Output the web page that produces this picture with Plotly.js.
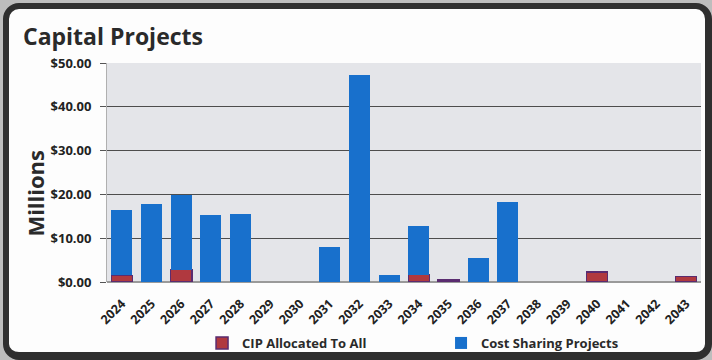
<!DOCTYPE html>
<html>
<head>
<meta charset="utf-8">
<script src="https://cdn.plot.ly/plotly-3.0.1.min.js"></script>
<style>
  html, body { margin: 0; padding: 0; width: 712px; height: 360px; overflow: hidden; background: #bdbdbd; }
  #frame { position: absolute; left: 3px; top: 3px; width: 709px; height: 357px; box-sizing: border-box;
           border-style: solid; border-color: #2f2f2f; border-width: 6px 7px 8px 6px;
           border-radius: 16px; background: #fdfdfd; }
  #chart { position: absolute; left: 0; top: 0; width: 712px; height: 360px; }
</style>
</head>
<body>
<div id="frame"></div>
<div id="chart"></div>
<script>
const years = ['2024','2025','2026','2027','2028','2029','2030','2031','2032','2033',
               '2034','2035','2036','2037','2038','2039','2040','2041','2042','2043'];
const cipAllocated = [1.5, null, 2.8, null, null, null, null, null, null, null, 1.7, 0.5, null, null, null, null, 2.3, null, null, 1.3];
const costSharing  = [14.9, 17.8, 17.1, 15.3, 15.5, null, null, 8.0, 47.2, 1.5, 11.1, null, 5.5, 18.2, null, null, null, null, null, null];
const yTicks = [0, 10, 20, 30, 40, 50];
const yTickText = yTicks.map(v => '$' + v.toFixed(2));

const FONT = 'Open Sans, Liberation Sans, sans-serif';

const traces = [
  {
    type: 'bar', name: 'CIP Allocated To All', x: years, y: cipAllocated,
    marker: { color: '#b0393f', line: { color: '#5a2c70', width: 1.5 } }
  },
  {
    type: 'bar', name: 'Cost Sharing Projects', x: years, y: costSharing,
    marker: { color: '#1870cc', line: { width: 0 } }
  }
];

const layout = {
  width: 712, height: 360,
  paper_bgcolor: 'rgba(0,0,0,0)',
  plot_bgcolor: '#e4e5e9',
  barmode: 'stack',
  bargap: 0.29,
  margin: { l: 107, r: 11, t: 63, b: 78, pad: 0, autoexpand: false },
  font: { family: FONT, color: '#222' },
  title: {
    text: 'Capital Projects', x: 23 / 712, xref: 'container', xanchor: 'left',
    y: 1 - 37 / 360, yref: 'container', yanchor: 'middle',
    font: { family: FONT, size: 23, weight: 'bold', color: '#2a2a2a' }
  },
  xaxis: {
    type: 'category', tickangle: -45,
    tickfont: { family: FONT, size: 12.5, weight: 'bold', color: '#222' },
    ticklabelstandoff: 11,
    showgrid: false, showline: false, ticks: '', zeroline: false
  },
  yaxis: {
    range: [0, 50], tickvals: yTicks, ticktext: yTickText,
    tickfont: { family: FONT, size: 13, weight: 'bold', color: '#222' },
    ticklabelstandoff: 6,
    gridcolor: '#4d4d4d', gridwidth: 1.2,
    zeroline: true, zerolinecolor: '#9a9a9a', zerolinewidth: 1.2,
    ticks: 'outside', ticklen: 6, tickcolor: '#555',
    showline: true, linecolor: '#b0b0b0', linewidth: 1
  },
  annotations: [{
    text: 'Millions', textangle: -90, showarrow: false,
    xref: 'paper', x: (35 - 107) / 594, xanchor: 'center',
    yref: 'paper', y: (281 - 193) / 218, yanchor: 'middle',
    font: { family: FONT, size: 22, weight: 'bold', color: '#2a2a2a' }
  }],
  showlegend: true,
  legend: {
    orientation: 'h', x: 0.16, xanchor: 'left', y: 1 - 343 / 360, yref: 'container', yanchor: 'middle',
    entrywidth: 194, entrywidthmode: 'pixels', traceorder: 'normal', itemwidth: 30,
    font: { family: FONT, size: 13, weight: 'bold', color: '#2a2a2a' },
    bgcolor: 'rgba(0,0,0,0)'
  }
};

Plotly.newPlot('chart', traces, layout, { staticPlot: true, displayModeBar: false });
</script>
</body>
</html>
